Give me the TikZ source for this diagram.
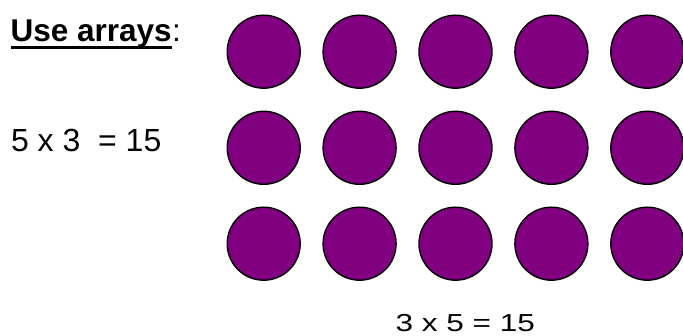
\documentclass[tikz,border=0pt]{standalone}
\usepackage{fontspec}
\setmainfont{Liberation Sans}
\definecolor{dotpurple}{HTML}{800080}
\begin{document}
\begin{tikzpicture}[x=1pt,y=1pt,
  dot/.style={circle,draw=black,line width=1.4pt,fill=dotpurple,minimum size=73pt,inner sep=0pt},
  lbl/.style={anchor=base west,inner sep=0pt,font=\fontsize{32}{36}\selectfont}]
\useasboundingbox[clip] (0,0) rectangle (683,-336);
\foreach \r/\yy in {1/51.7,2/147.8,3/243.7}{
  \foreach \c in {1,...,5}{
    \node[dot] (d\r\c) at ({263.7+95.9*(\c-1)},-\yy) {};
  }
}
\node[lbl,font=\fontsize{31.5}{36}\selectfont\bfseries] (title) at (10.5,-41.7) {Use arrays};
\node[lbl,font=\fontsize{31.5}{36}\selectfont] (colon) at (title.base east) {:};
\draw[line width=3pt] ([yshift=-5.6pt]title.base west) -- ([yshift=-5.6pt]title.base east);
\node[lbl] (left) at (10.8,-151.7) {5 x 3\ \ = 15};
\node[lbl,font=\fontsize{31.5}{36}\selectfont] (bottom) at (395.5,-331.5) {\scalebox{1}[0.78]{3 x 5 = 15}};
\end{tikzpicture}
\end{document}
